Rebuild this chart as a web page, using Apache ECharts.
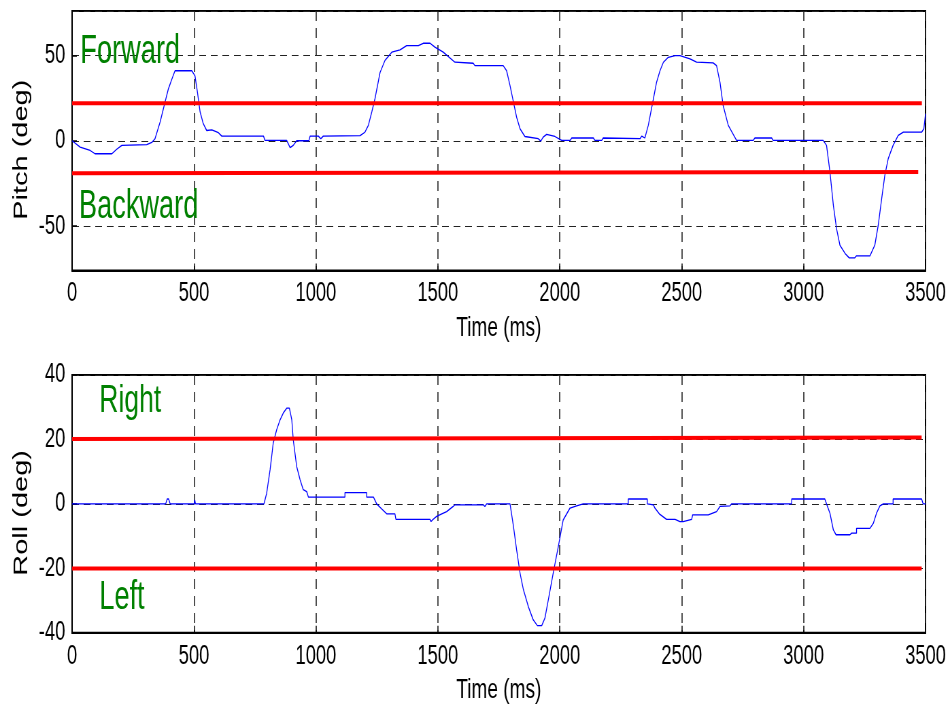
<!DOCTYPE html>
<html>
<head>
<meta charset="utf-8">
<script src="https://cdn.jsdelivr.net/npm/echarts@6/dist/echarts.min.js"></script>
<style>
  html, body { margin: 0; padding: 0; background: #fff; overflow: hidden; }
  #frame { width: 950px; height: 711px; overflow: hidden; position: relative; }
  /* The chart is laid out on a wider canvas and squeezed horizontally,
     giving the narrow lettering of the original figure. */
  #chart { width: 1397px; height: 711px; transform: scaleX(0.68003); transform-origin: 0 0; }
</style>
</head>
<body>
<div id="frame"><div id="chart"></div></div>
<script>
// Pitch angle trace (time in ms, angle in degrees)
const pitchTime = [0, 33, 74, 94, 163, 183, 204, 306, 327, 340, 361, 381, 395, 409, 422, 491, 504, 514, 525, 538, 552, 573, 600, 614, 785, 791, 880, 894, 907, 921, 971, 976, 1010, 1020, 1030, 1181, 1201, 1215, 1229, 1242, 1263, 1283, 1311, 1345, 1372, 1420, 1440, 1468, 1488, 1522, 1570, 1645, 1652, 1768, 1782, 1796, 1810, 1823, 1837, 1857, 1912, 1922, 1932, 1946, 1980, 2008, 2042, 2049, 2138, 2144, 2172, 2178, 2329, 2336, 2349, 2363, 2384, 2397, 2411, 2425, 2445, 2473, 2493, 2534, 2561, 2629, 2643, 2657, 2670, 2691, 2725, 2793, 2800, 2869, 2875, 3080, 3094, 3108, 3122, 3135, 3149, 3170, 3187, 3210, 3217, 3272, 3292, 3306, 3320, 3333, 3347, 3367, 3388, 3409, 3484, 3493, 3500];
const pitchDeg = [0, -3.7, -5.7, -7.6, -7.6, -5, -2.7, -2.3, -1, 1.2, 11, 22.6, 30.4, 36, 41, 41, 38, 28.5, 16.8, 10, 6, 6.4, 4.7, 2.7, 2.7, 0.2, 0.2, -4, -2.7, 0, 0, 2.7, 2.7, 1.2, 2.7, 3, 5, 9, 16.8, 24.6, 40, 47, 51.9, 53.2, 55.7, 55.7, 57.1, 57.1, 54.8, 51.9, 46, 45.4, 44, 44, 41, 32.3, 22.6, 13.8, 7, 2.5, 1.2, -0.2, 2.1, 3.7, 2.5, 0.2, 0.2, 1.6, 1.6, 0.2, 0.2, 1.6, 1.2, 2.7, 1.6, 9, 24.6, 34.3, 41, 46, 48.9, 49.9, 49.9, 48, 46, 45.6, 44, 34.3, 20.6, 9, 0.2, 0.2, 1.6, 1.6, 0.2, 0.2, -2.7, -18.3, -37.8, -51.5, -61.2, -66, -68.6, -68.6, -67.4, -67.4, -61.2, -49.5, -34, -20.3, -10.5, -2.7, 3.1, 5, 5, 7, 15.8];

// Roll angle trace (time in ms, angle in degrees)
const rollTime = [0, 384, 390, 396, 402, 500, 503, 506, 787, 798, 812, 825, 839, 853, 866, 880, 891, 901, 907, 921, 935, 948, 962, 969, 1119, 1119, 1208, 1208, 1236, 1249, 1270, 1290, 1324, 1328, 1468, 1472, 1481, 1495, 1516, 1536, 1563, 1570, 1686, 1693, 1700, 1768, 1770, 1772, 1796, 1810, 1823, 1837, 1851, 1871, 1891, 1908, 1926, 1939, 1953, 1973, 1994, 2014, 2042, 2069, 2096, 2281, 2281, 2359, 2359, 2384, 2390, 2408, 2438, 2473, 2493, 2506, 2541, 2545, 2609, 2643, 2657, 2698, 2705, 2951, 2951, 3087, 3094, 3108, 3122, 3133, 3190, 3197, 3217, 3217, 3272, 3286, 3299, 3313, 3327, 3367, 3367, 3484, 3490, 3500];
const rollDeg = [0, 0, 1.5, 1.5, 0, 0, 1.2, 0, 0, 3.3, 10.6, 18.9, 23, 26.1, 28.2, 29.7, 29.7, 26.1, 19.9, 11.6, 7.5, 4.4, 3.8, 2.1, 2.1, 3.5, 3.5, 2.1, 2.1, 0, -1.6, -3.1, -3.1, -4.8, -4.8, -5.5, -4.8, -3.9, -3.1, -2.4, -0.8, -0.3, -0.3, -0.8, 0, 0, -0.6, 0, 0, -7, -14.3, -21.5, -26.7, -31.9, -36, -37.8, -37.8, -35.5, -29.8, -21.5, -13.3, -5, -1.3, -0.6, 0, 0, 1.5, 1.5, 0, -0.3, -1.3, -3.1, -4.8, -4.8, -5.5, -5.5, -4.8, -3.4, -3.4, -2.4, -0.8, -0.6, 0, 0, 1.5, 1.5, 0, -2.9, -8.1, -9.6, -9.6, -9.1, -9.1, -7.6, -7.6, -6, -2.9, -0.6, 0, 0, 1.5, 1.5, 0, 0];

// Detection thresholds (start/end time, level at each end)
const forwardTime = [0, 3485];
const forwardDeg = [22, 22];
const backwardTime = [0, 3470];
const backwardDeg = [-19.1, -18.3];
const rightTime = [0, 3484];
const rightDeg = [20.1, 20.6];
const leftTime = [0, 3484];
const leftDeg = [-20.1, -20.1];

// Axis settings
const timeTicks = { min: 0, max: 3500, step: 500 };
const pitchRange = { min: -76, max: 76 };
const rollRange = { min: -40, max: 40, step: 20 };

const FONT = '"Liberation Sans", Arial, Helvetica, sans-serif';
const plain = v => String(v);

function zip(xs, ys) { return xs.map((x, i) => [x, ys[i]]); }

function timeAxis(gridIndex) {
  return {
    type: 'value', gridIndex,
    min: timeTicks.min, max: timeTicks.max, interval: timeTicks.step,
    name: 'Time (ms)', nameLocation: 'middle', nameGap: 44,
    nameTextStyle: { color: '#000', fontSize: 28, fontFamily: FONT },
    axisLine: { show: true, onZero: false, lineStyle: { color: '#000', width: 2 } },
    axisTick: { show: true, inside: true, length: 7, lineStyle: { color: '#000', width: 1.5 } },
    axisLabel: { color: '#000', fontSize: 27, margin: 10, fontFamily: FONT, formatter: plain },
    splitLine: { show: true, lineStyle: { color: '#222', width: 1.6, type: [10, 7] } }
  };
}

function angleAxis(gridIndex, name, range, extra) {
  return Object.assign({
    type: 'value', gridIndex,
    min: range.min, max: range.max,
    name, nameLocation: 'middle', nameGap: 50,
    nameTextStyle: { color: '#000', fontSize: 29, fontFamily: FONT, padding: [0, 18, 0, 0] },
    axisLine: { show: true, onZero: false, lineStyle: { color: '#000', width: 2 } },
    axisTick: { show: true, inside: true, length: 7, lineStyle: { color: '#000', width: 1.5 } },
    axisLabel: { color: '#000', fontSize: 27, margin: 10, fontFamily: FONT, formatter: plain },
    splitLine: { show: true, lineStyle: { color: '#222', width: 1, type: [10, 7] } }
  }, extra);
}

function trace(data, xi, color, width, z) {
  return {
    type: 'line', xAxisIndex: xi, yAxisIndex: xi, data,
    showSymbol: false, symbol: 'none', silent: true, z,
    lineStyle: { color, width }
  };
}

function zoneLabel(text, left, top, size) {
  return {
    type: 'text', left, top, z: 10,
    style: { text, fill: '#008000', fontSize: size, fontFamily: FONT }
  };
}

const chart = echarts.init(document.getElementById('chart'));
chart.setOption({
  animation: false,
  backgroundColor: '#fff',
  grid: [
    { left: 106, right: 36, top: 11, height: 259.5, show: true, borderColor: '#000', borderWidth: 2 },
    { left: 106, right: 36, top: 375, height: 257.7, show: true, borderColor: '#000', borderWidth: 2 }
  ],
  xAxis: [timeAxis(0), timeAxis(1)],
  yAxis: [
    angleAxis(0, 'Pitch (deg)', pitchRange, {
      splitNumber: 3,
      axisLabel: { color: '#000', fontSize: 27, margin: 10, fontFamily: FONT, formatter: plain, showMinLabel: false, showMaxLabel: false }
    }),
    angleAxis(1, 'Roll (deg)', rollRange, { interval: rollRange.step })
  ],
  series: [
    trace(zip(pitchTime, pitchDeg), 0, '#0000ff', 1.3, 2),
    trace(zip(forwardTime, forwardDeg), 0, '#ff0000', 4, 3),
    trace(zip(backwardTime, backwardDeg), 0, '#ff0000', 4, 3),
    trace(zip(rollTime, rollDeg), 1, '#0000ff', 1.3, 2),
    trace(zip(rightTime, rightDeg), 1, '#ff0000', 4, 3),
    trace(zip(leftTime, leftDeg), 1, '#ff0000', 4, 3)
  ],
  graphic: [
    zoneLabel('Forward', 118, 31.5, 40),
    zoneLabel('Backward', 116, 186.5, 40),
    zoneLabel('Right', 146, 382, 39),
    zoneLabel('Left', 146, 578, 40)
  ]
});
</script>
</body>
</html>
